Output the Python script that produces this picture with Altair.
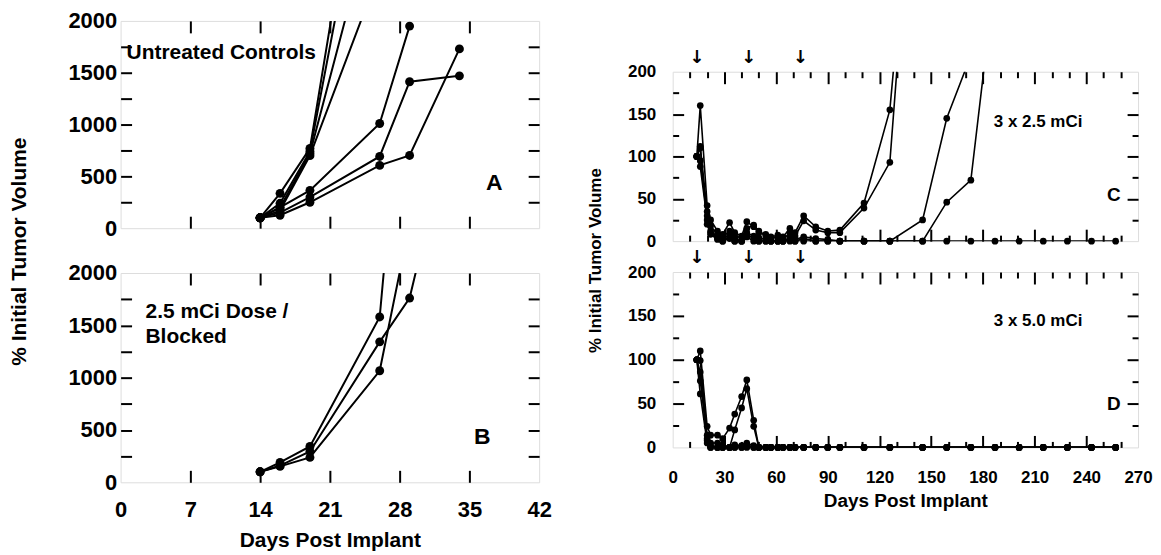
import altair as alt
import pandas as pd

FONT = "Liberation Sans"
ARROW_FONT = "DejaVu Sans"

# ---------------- Panel A: untreated controls (% initial tumor volume)
A_DAYS = [14, 16, 19, 23, 26, 29, 34]
A_M1 = [100, 336, 770, 3110, None, None, None]
A_M2 = [100, 240, 740, 2760, None, None, None]
A_M3 = [100, 200, 720, 2180, None, None, None]
A_M4 = [100, 170, 700, None, 2480, None, None]
A_M5 = [100, 200, 365, None, 1010, 1950, None]
A_M6 = [100, 150, 300, None, 692, 1413, 1470]
A_M7 = [100, 125, 250, None, 606, 702, 1730]

# ---------------- Panel B: 2.5 mCi dose / blocked
B_DAYS = [14, 16, 19, 26, 29, 33]
B_M1 = [100, 190, 343, 1580, 4730, None]
B_M2 = [100, 152, 238, 1066, 2470, None]
B_M3 = [100, 160, 295, 1342, 1761, 3350]

# ---------------- Panel C: 3 x 2.5 mCi
C_DAYS = [14, 16, 20, 22, 26, 29, 33, 36, 40, 43,
          47, 50, 54, 57, 61, 64, 68, 71, 76, 83,
          90, 97, 111, 126, 133, 145, 159, 173, 187, 201,
          215, 229, 243, 257]
C_M1 = [100, 160, 42, 25, 12, 8, 22, 10, 6, 23,
        17, 10, 8, 5, 7, 5, 15, 10, 30, 17,
        12, 13, 45, 155, 312, None, None, None, None, None,
        None, None, None, None]
C_M2 = [100, 112, 35, 18, 8, 5, 12, 6, 4, 15,
        19, 12, 6, 3, 5, 2, 10, 6, 24, 13,
        10, 10, 39, 93, 280, None, None, None, None, None,
        None, None, None, None]
C_M3 = [100, 95, 30, 12, 5, 2, 8, 3, 0, 10,
        6, 4, 2, 0, 0, 0, 4, 2, 5, 3,
        2, 0, 0, 0, None, 25, 145, 219, None, None,
        None, None, None, None]
C_M4 = [100, 88, 25, 10, 3, 0, 5, 0, 0, 8,
        3, 0, 0, 0, 0, 0, 2, 0, 3, 0,
        0, 0, 0, 0, None, 0, 46, 72, 314, None,
        None, None, None, None]
C_M5 = [100, 110, 20, 8, 2, 0, 3, 0, 0, 5,
        0, 0, 0, 0, 0, 0, 0, 0, 0, 0,
        0, 0, 0, 0, None, 0, 0, 0, 0, 0,
        0, 0, 0, 0]

# ---------------- Panel D: 3 x 5.0 mCi
D_DAYS = [14, 16, 20, 22, 26, 29, 33, 36, 40, 43,
          47, 50, 54, 57, 61, 64, 68, 71, 76, 83,
          90, 97, 111, 126, 145, 159, 173, 187, 201, 215,
          229, 243, 257]
D_M1 = [100, 110, 24, 14, 14, 10, 22, 38, 58, 77,
        31, 0, 0, 0, 0, 0, 0, 0, 0, 0,
        0, 0, 0, 0, 0, 0, 0, 0, 0, 0,
        0, 0, 0]
D_M2 = [100, 99, 14, 5, 5, 3, 0, 20, 45, 67,
        24, 0, 0, 0, 0, 0, 0, 0, 0, 0,
        0, 0, 0, 0, 0, 0, 0, 0, 0, 0,
        0, 0, 0]
D_M3 = [100, 86, 8, 2, 0, 0, 0, 3, 2, 5,
        2, 0, 0, 0, 0, 0, 0, 0, 0, 0,
        0, 0, 0, 0, 0, 0, 0, 0, 0, 0,
        0, 0, 0]
D_M4 = [100, 76, 10, 0, 0, 0, 0, 0, 0, 3,
        0, 0, 0, 0, 0, 0, 0, 0, 0, 0,
        0, 0, 0, 0, 0, 0, 0, 0, 0, 0,
        0, 0, 0]
D_M5 = [100, 61, 5, 0, 0, 0, 0, 0, 0, 0,
        0, 0, 0, 0, 0, 0, 0, 0, 0, 0,
        0, 0, 0, 0, 0, 0, 0, 0, 0, 0,
        0, 0, 0]

# treatment days (arrows above the right-hand panels)
DOSE_DAYS = [14, 44, 74]

# axis ticks / labels
LEFT_X_LABELS = [0, 7, 14, 21, 28, 35, 42]
LEFT_X_TICKS = [7, 14, 21, 28, 35]
LEFT_Y_LABELS = [0, 500, 1000, 1500, 2000]
LEFT_Y_TICKS = [250, 500, 750, 1000, 1250, 1500, 1750]
RIGHT_X_LABELS = [0, 30, 60, 90, 120, 150, 180, 210, 240, 270]
RIGHT_X_MAJOR = [30, 60, 90, 120, 150, 180, 210, 240]
RIGHT_X_MINOR = [10, 20, 40, 50, 70, 80, 100, 110, 130, 140, 160, 170,
                 190, 200, 220, 230, 250, 260]
RIGHT_Y_LABELS = [0, 50, 100, 150, 200]
RIGHT_Y_MAJOR = [50, 100, 150]
RIGHT_Y_MINOR = [25, 75, 125, 175]

# annotations (text, day, volume)
A_NOTES = ["Untreated Controls"]
A_NOTES_X = [0.6]
A_NOTES_Y = [1690]
B_NOTES = ["2.5 mCi Dose /", "Blocked"]
B_NOTES_X = [2.5, 2.5]
B_NOTES_Y = [1628, 1390]
C_NOTES = ["3 x 2.5 mCi"]
C_NOTES_X = [212]
C_NOTES_Y = [141]
D_NOTES = ["3 x 5.0 mCi"]
D_NOTES_X = [212]
D_NOTES_Y = [144]
LETTERS = ["A", "B", "C", "D"]
LETTER_X = [37.5, 36.3, 256, 256]
LETTER_Y = [433, 428, 54, 50]


def long_df(days, series):
    rows = []
    for name, vals in series.items():
        for d, v in zip(days, vals):
            if v is not None:
                rows.append({"day": d, "vol": v, "mouse": name})
    return pd.DataFrame(rows)


def make_panel(df, w, h, xdom, ydom, pt, lw, ylab_vals, ylab_fs, ylab_pad,
               xmaj, xmin, ymaj, ymin, notes, note_fs, note_align, letter, letter_fs,
               xlab_vals=None, xlab_fs=None, xlab_pad=0,
               x_title=None, x_title_fs=None, x_title_pad=0,
               y_title=None, y_title_fs=None, y_title_pad=0, y_title_y=0,
               arrows=None):
    xs = alt.Scale(domain=xdom, nice=False, zero=False)
    ys = alt.Scale(domain=ydom, nice=False, zero=False)
    df_pts = df[df["vol"] <= ydom[1]]

    y_kw = dict(values=ylab_vals, format="d", ticks=False, domain=False, grid=False,
                labelFont=FONT, labelFontWeight="bold", labelFontSize=ylab_fs,
                labelColor="black", labelPadding=ylab_pad, labelOverlap=False,
                labelFlush=False, orient="left")
    if y_title:
        y_kw.update(title=y_title, titleFont=FONT, titleFontWeight="bold",
                    titleFontSize=y_title_fs, titleColor="black",
                    titlePadding=y_title_pad, titleY=y_title_y)
    else:
        y_kw.update(title=None)
    y_ax = alt.Axis(**y_kw)

    if xlab_vals:
        x_kw = dict(values=xlab_vals, format="d", ticks=False, domain=False, grid=False,
                    labelFont=FONT, labelFontWeight="bold", labelFontSize=xlab_fs,
                    labelColor="black", labelPadding=xlab_pad, labelOverlap=False,
                    labelFlush=False, orient="bottom",
                    title=x_title, titleFont=FONT, titleFontWeight="bold",
                    titleFontSize=x_title_fs, titleColor="black",
                    titlePadding=x_title_pad)
        x_ax = alt.Axis(**x_kw)
    else:
        x_ax = None

    lines = alt.Chart(df).mark_line(color="black", strokeWidth=lw, clip=True).encode(
        x=alt.X("day:Q", scale=xs, axis=x_ax),
        y=alt.Y("vol:Q", scale=ys, axis=y_ax),
        detail="mouse:N",
    )
    points = alt.Chart(df_pts).mark_circle(color="black", opacity=1, size=pt).encode(
        x=alt.X("day:Q", scale=xs, axis=None),
        y=alt.Y("vol:Q", scale=ys, axis=None),
    )

    def tick_axis(orient, vals, size):
        return alt.Axis(orient=orient, values=vals, tickSize=size, offset=-size,
                        tickWidth=2, tickColor="black", labels=False, domain=False,
                        grid=False, title=None)

    def tick_layer(xo, yo, xv, yv, xsize, ysize):
        return alt.Chart(df_pts).mark_point(opacity=0, clip=True).encode(
            x=alt.X("day:Q", scale=xs, axis=tick_axis(xo, xv, xsize)),
            y=alt.Y("vol:Q", scale=ys, axis=tick_axis(yo, yv, ysize)),
        )

    layers = [lines, points,
              tick_layer("bottom", "left", xmaj, ymaj, 12, 11),
              tick_layer("top", "right", xmaj, ymaj, 12, 11)]
    if xmin and ymin:
        layers.append(tick_layer("bottom", "left", xmin, ymin, 6, 6))
        layers.append(tick_layer("top", "right", xmin, ymin, 6, 6))

    notes_df = pd.DataFrame({"t": notes[0], "x": notes[1], "y": notes[2]})
    layers.append(
        alt.Chart(notes_df).mark_text(font=FONT, fontWeight="bold", fontSize=note_fs,
                                      align=note_align, baseline="middle", color="black").encode(
            x=alt.X("x:Q", scale=xs, axis=None),
            y=alt.Y("y:Q", scale=ys, axis=None),
            text="t:N",
        )
    )
    letter_df = pd.DataFrame({"t": [letter[0]], "x": [letter[1]], "y": [letter[2]]})
    layers.append(
        alt.Chart(letter_df).mark_text(font=FONT, fontWeight="bold", fontSize=letter_fs,
                                       align="center", baseline="middle", color="black").encode(
            x=alt.X("x:Q", scale=xs, axis=None),
            y=alt.Y("y:Q", scale=ys, axis=None),
            text="t:N",
        )
    )
    if arrows:
        arr_df = pd.DataFrame({"day": arrows})
        layers.append(
            alt.Chart(arr_df).mark_text(text="\u2193", font=ARROW_FONT, fontWeight="bold",
                                        fontSize=18, baseline="middle", color="black").encode(
                x=alt.X("day:Q", scale=xs, axis=None),
                y=alt.value(-14),
            )
        )

    return alt.layer(*layers).resolve_axis(x="independent", y="independent").properties(
        width=w, height=h)


dfA = long_df(A_DAYS, {"1": A_M1, "2": A_M2, "3": A_M3, "4": A_M4,
                       "5": A_M5, "6": A_M6, "7": A_M7})
dfB = long_df(B_DAYS, {"1": B_M1, "2": B_M2, "3": B_M3})
dfC = long_df(C_DAYS, {"1": C_M1, "2": C_M2, "3": C_M3, "4": C_M4, "5": C_M5})
dfD = long_df(D_DAYS, {"1": D_M1, "2": D_M2, "3": D_M3, "4": D_M4, "5": D_M5})

panelA = make_panel(
    dfA, 420, 208, [0, 42], [0, 2000], 80, 2, LEFT_Y_LABELS, 22, 4,
    LEFT_X_TICKS, None, LEFT_Y_TICKS, None,
    (A_NOTES, A_NOTES_X, A_NOTES_Y), 21, "left",
    (LETTERS[0], LETTER_X[0], LETTER_Y[0]), 23,
    y_title="% Initial Tumor Volume", y_title_fs=21, y_title_pad=38, y_title_y=231,
)
panelB = make_panel(
    dfB, 420, 210, [0, 42], [0, 2000], 80, 2, LEFT_Y_LABELS, 22, 4,
    LEFT_X_TICKS, None, LEFT_Y_TICKS, None,
    (B_NOTES, B_NOTES_X, B_NOTES_Y), 21, "left",
    (LETTERS[1], LETTER_X[1], LETTER_Y[1]), 23,
    xlab_vals=LEFT_X_LABELS, xlab_fs=22, xlab_pad=17,
    x_title="Days Post Implant", x_title_fs=21, x_title_pad=9,
)
panelC = make_panel(
    dfC, 467, 170, [0, 270], [0, 200], 45, 1.6, RIGHT_Y_LABELS, 17, 17,
    RIGHT_X_MAJOR, RIGHT_X_MINOR, RIGHT_Y_MAJOR, RIGHT_Y_MINOR,
    (C_NOTES, C_NOTES_X, C_NOTES_Y), 17, "center",
    (LETTERS[2], LETTER_X[2], LETTER_Y[2]), 19,
    y_title="% Initial Tumor Volume", y_title_fs=17, y_title_pad=23, y_title_y=189,
    arrows=DOSE_DAYS,
)
panelD = make_panel(
    dfD, 467, 176, [0, 270], [0, 200], 45, 1.6, RIGHT_Y_LABELS, 17, 17,
    RIGHT_X_MAJOR, RIGHT_X_MINOR, RIGHT_Y_MAJOR, RIGHT_Y_MINOR,
    (D_NOTES, D_NOTES_X, D_NOTES_Y), 17, "center",
    (LETTERS[3], LETTER_X[3], LETTER_Y[3]), 19,
    xlab_vals=RIGHT_X_LABELS, xlab_fs=17, xlab_pad=22,
    x_title="Days Post Implant", x_title_fs=19, x_title_pad=6,
    arrows=DOSE_DAYS,
)

spacer = alt.Chart(pd.DataFrame({"a": [0]})).mark_point(opacity=0, size=1).encode(
    x=alt.X("a:Q", axis=None), y=alt.Y("a:Q", axis=None)
).properties(width=1, height=1, view=alt.ViewBackground(stroke="transparent"))

left = alt.vconcat(panelA, panelB, spacing=45, bounds="flush")
right_inner = alt.vconcat(panelC, panelD, spacing=31, bounds="flush")
right = alt.vconcat(spacer, right_inner, spacing=50, bounds="flush")

chart = alt.hconcat(left, right, spacing=34).properties(
    padding={"left": 0, "top": 0, "right": 0, "bottom": 0}
).configure_view(stroke="black", strokeWidth=2).configure(background="white")

chart.save("out.html", embed_options={"renderer": "svg", "actions": False})
